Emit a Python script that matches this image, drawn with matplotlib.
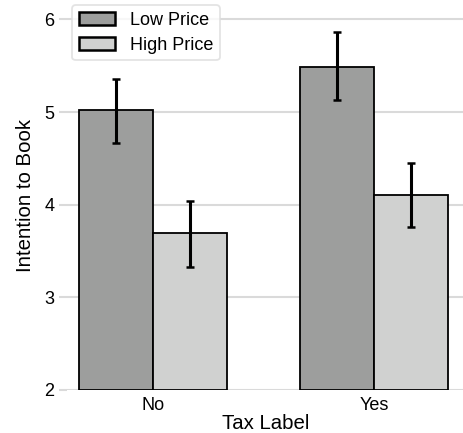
import numpy as np
import matplotlib
matplotlib.use("Agg")
import matplotlib.pyplot as plt

plt.rcParams['font.family'] = ['Liberation Sans', 'DejaVu Sans']

categories = ['No', 'Yes']
series = ['Low Price', 'High Price']
means = {
    'Low Price': [5.02, 5.49],
    'High Price': [3.69, 4.11],
}
ci_lower = {
    'Low Price': [4.67, 5.13],
    'High Price': [3.33, 3.76],
}
ci_upper = {
    'Low Price': [5.36, 5.86],
    'High Price': [4.04, 4.45],
}
colors = {'Low Price': '#9d9e9d', 'High Price': '#d0d1d0'}

fig = plt.figure(figsize=(4.64, 4.33), dpi=100)
ax = fig.add_axes([67 / 464, 43 / 433, 1 - 67 / 464, 1 - 43 / 433])

x = np.arange(len(categories))
width = 0.335
offsets = [-width / 2, width / 2]

for name, off in zip(series, offsets):
    m = np.array(means[name])
    lo = m - np.array(ci_lower[name])
    hi = np.array(ci_upper[name]) - m
    ax.bar(x + off, m - 2, bottom=2, width=width, color=colors[name],
           edgecolor='black', linewidth=1.3, label=name, zorder=2)
    ax.errorbar(x + off, m, yerr=[lo, hi], fmt='none', ecolor='black',
                elinewidth=2.2, capsize=2.6, capthick=1.8, zorder=3)

ax.set_xlim(-0.389, 1.407)
ax.set_ylim(2, 6.21)
ax.set_yticks([2, 3, 4, 5, 6])
ax.set_xticks(x)
ax.set_xticklabels(categories)

ax.grid(axis='y', color='#dadada', linewidth=1.5, zorder=0)
ax.set_axisbelow(True)
for s in ax.spines.values():
    s.set_visible(False)
ax.tick_params(axis='y', length=6, width=1.5, color='#dadada',
               labelsize=13, pad=3)
ax.tick_params(axis='x', length=0, labelsize=13, pad=5)

ax.set_xlabel('Tax Label', fontsize=14.7, labelpad=0)
ax.set_ylabel('Intention to Book', fontsize=14.7, labelpad=7)

leg = ax.legend(loc='upper left', bbox_to_anchor=(0.0, 1.0), fontsize=13,
                frameon=True, fancybox=True, handlelength=2.0,
                handleheight=0.75, borderpad=0.35, labelspacing=0.45,
                handletextpad=0.85, borderaxespad=0.3)
leg.get_frame().set_edgecolor('#dddddd')
leg.get_frame().set_linewidth(1.3)
for h in leg.legend_handles:
    h.set_linewidth(1.8)

fig.savefig('out.png', dpi=100)
